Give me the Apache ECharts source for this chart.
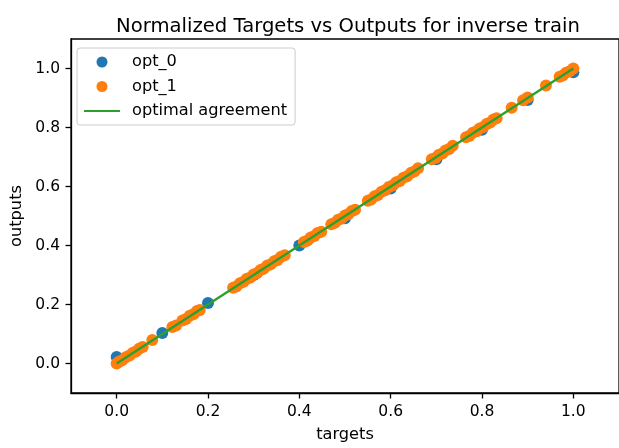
<!DOCTYPE html>
<html>
<head>
<meta charset="utf-8">
<script src="https://cdn.jsdelivr.net/npm/echarts@6/dist/echarts.min.js"></script>
<style>
html,body{margin:0;padding:0;background:#fff;}
#chart{width:619px;height:448px;}
</style>
</head>
<body>
<div id="chart"></div>
<script>
// ---- data ----
const titleText = "Normalized Targets vs Outputs for inverse train";
const xAxisName = "targets";
const yAxisName = "outputs";
const tickValues = [0, 0.2, 0.4, 0.6, 0.8, 1.0];

const opt0Targets = [0.0, 0.1, 0.2, 0.3, 0.4, 0.5, 0.6, 0.7, 0.8, 0.9, 1.0];
const opt0Outputs = [0.022, 0.103, 0.205, 0.300, 0.400, 0.492, 0.593, 0.692, 0.792, 0.893, 0.987];

const opt1Targets = [0.0, 0.005, 0.012, 0.02, 0.028, 0.035, 0.042, 0.05, 0.057, 0.078,
  0.122, 0.13, 0.144, 0.152, 0.16, 0.168, 0.176, 0.182,
  0.255, 0.262, 0.27, 0.278, 0.285, 0.292, 0.3, 0.307, 0.315, 0.322, 0.33, 0.337, 0.345, 0.352, 0.36, 0.368,
  0.41, 0.418, 0.425, 0.433, 0.44, 0.448, 0.47, 0.478, 0.485, 0.492, 0.5, 0.507, 0.515, 0.522,
  0.55, 0.557, 0.565, 0.572, 0.58, 0.588, 0.596, 0.605, 0.612, 0.62, 0.628, 0.636, 0.645, 0.652, 0.66,
  0.69, 0.698, 0.705, 0.713, 0.72, 0.728, 0.736,
  0.765, 0.772, 0.78, 0.788, 0.795, 0.803, 0.81, 0.818, 0.825, 0.832,
  0.865, 0.89, 0.9, 0.94, 0.97, 0.977, 0.984, 0.992, 1.0];
const opt1Outputs = [0.0, 0.006, 0.011, 0.021, 0.027, 0.036, 0.041, 0.051, 0.056, 0.08,
  0.124, 0.129, 0.146, 0.151, 0.162, 0.167, 0.178, 0.181,
  0.257, 0.261, 0.272, 0.277, 0.287, 0.291, 0.302, 0.306, 0.317, 0.321, 0.332, 0.336, 0.347, 0.351, 0.362, 0.367,
  0.412, 0.417, 0.427, 0.432, 0.442, 0.447, 0.472, 0.477, 0.487, 0.491, 0.502, 0.506, 0.517, 0.521,
  0.552, 0.556, 0.567, 0.571, 0.582, 0.587, 0.598, 0.604, 0.614, 0.619, 0.63, 0.635, 0.647, 0.651, 0.662,
  0.692, 0.697, 0.707, 0.712, 0.722, 0.727, 0.738,
  0.767, 0.771, 0.782, 0.787, 0.797, 0.802, 0.812, 0.817, 0.827, 0.831,
  0.867, 0.892, 0.902, 0.942, 0.972, 0.976, 0.986, 0.991, 1.0];

const optimalX = [0, 1];
const optimalY = [0, 1];

const seriesNames = ["opt_0", "opt_1", "optimal agreement"];
const colors = ["#1f77b4", "#ff7f0e", "#2ca02c"];

// ---- chart ----
const pairs = (xs, ys) => xs.map((x, i) => [x, ys[i]]);
const font = "DejaVu Sans";
const chart = echarts.init(document.getElementById('chart'), null, {renderer: 'canvas'});

const axisCommon = {
  type: 'value',
  min: -0.1,
  max: 1.1,
  nameLocation: 'middle',
  nameTextStyle: {fontFamily: font, fontSize: 16.2, color: '#000'},
  axisLine: {show: true, onZero: false, lineStyle: {color: '#000', width: 1.3}},
  axisTick: {show: true, inside: false, length: 5.5, customValues: tickValues, lineStyle: {color: '#000', width: 1.3}},
  axisLabel: {show: true, margin: 11, customValues: tickValues, fontFamily: font, fontSize: 15.5, color: '#000',
    formatter: v => Number(v).toFixed(1)},
  splitLine: {show: false}
};

chart.setOption({
  animation: false,
  backgroundColor: '#fff',
  title: {
    text: titleText,
    left: 343,
    top: 12,
    textAlign: 'center',
    textStyle: {fontFamily: font, fontSize: 19.6, fontWeight: 'normal', color: '#000'}
  },
  grid: {left: 71, top: 39, right: -3, bottom: 51, show: true, borderColor: '#000', borderWidth: 1.3, containLabel: false},
  xAxis: Object.assign({}, axisCommon, {name: xAxisName, nameGap: 34}),
  yAxis: Object.assign({}, axisCommon, {name: yAxisName, nameGap: 43}),
  legend: {
    orient: 'vertical',
    left: 77,
    top: 48,
    padding: [5, 8, 5, 6],
    itemWidth: 36,
    itemHeight: 11,
    itemGap: 6.5,
    borderColor: '#cccccc',
    borderWidth: 1,
    borderRadius: 3,
    backgroundColor: 'rgba(255,255,255,0.8)',
    textStyle: {fontFamily: font, fontSize: 16.2, color: '#000', lineHeight: 18, padding: [0, 0, 0, 7]},
    data: [
      {name: seriesNames[0], icon: 'circle'},
      {name: seriesNames[1], icon: 'circle'},
      {name: seriesNames[2], itemStyle: {opacity: 0}}
    ]
  },
  series: [
    {name: seriesNames[0], type: 'scatter', data: pairs(opt0Targets, opt0Outputs), symbol: 'circle', symbolSize: 12,
      itemStyle: {color: colors[0], opacity: 1}, z: 2},
    {name: seriesNames[1], type: 'scatter', data: pairs(opt1Targets, opt1Outputs), symbol: 'circle', symbolSize: 12,
      itemStyle: {color: colors[1], opacity: 1}, z: 3},
    {name: seriesNames[2], type: 'line', data: pairs(optimalX, optimalY), symbol: 'none', showSymbol: false,
      lineStyle: {color: colors[2], width: 2.4}, itemStyle: {color: colors[2]}, z: 4}
  ]
});
</script>
</body>
</html>
